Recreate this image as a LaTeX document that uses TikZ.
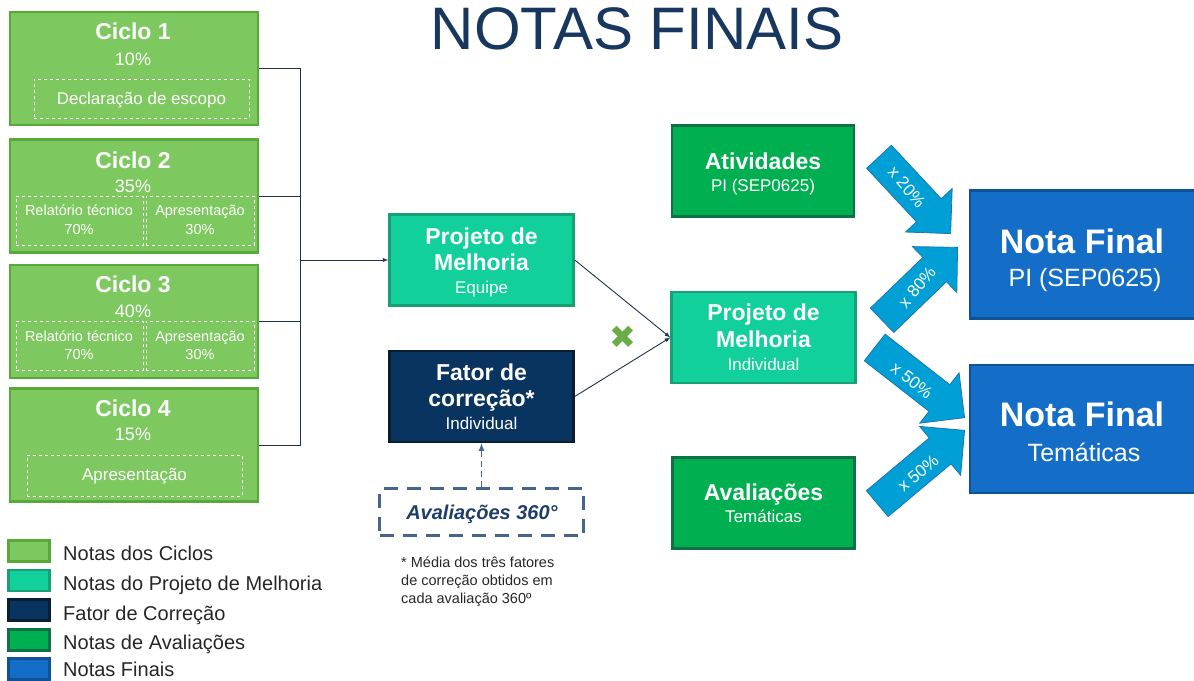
\documentclass[tikz,border=0pt]{standalone}
\usepackage{fontspec}
\setmainfont{Liberation Sans}
\newfontfamily\symbfont{DejaVu Sans}
\usetikzlibrary{shapes.arrows}

\definecolor{ciclofill}{RGB}{125,200,95}
\definecolor{ciclodraw}{RGB}{88,168,58}
\definecolor{projfill}{RGB}{18,208,155}
\definecolor{projdraw}{RGB}{22,160,115}
\definecolor{corrfill}{RGB}{10,52,96}
\definecolor{corrdraw}{RGB}{10,30,50}
\definecolor{evalfill}{RGB}{0,176,80}
\definecolor{evaldraw}{RGB}{14,112,70}
\definecolor{finalfill}{RGB}{20,110,200}
\definecolor{finaldraw}{RGB}{16,82,150}
\definecolor{arrowfill}{RGB}{0,160,215}
\definecolor{arrowdraw}{RGB}{25,118,178}
\definecolor{titlecol}{RGB}{23,55,94}
\definecolor{linkcol}{RGB}{30,50,80}
\definecolor{dashcol}{RGB}{70,100,140}
\definecolor{labelcol}{RGB}{31,61,107}
\definecolor{crossgreen}{RGB}{106,172,70}
\definecolor{inkgray}{RGB}{38,38,38}

\tikzset{
  tilebox/.style={line width=2.5pt, inner sep=0pt},
  cyclebox/.style={tilebox, fill=ciclofill, draw=ciclodraw, minimum width=248pt, minimum height=113pt},
  projbox/.style={tilebox, fill=projfill, draw=projdraw, minimum width=184pt, minimum height=91pt},
  corrbox/.style={tilebox, fill=corrfill, draw=corrdraw, minimum width=184pt, minimum height=91pt},
  evalbox/.style={tilebox, fill=evalfill, draw=evaldraw, minimum width=182pt, minimum height=91pt},
  finalbox/.style={tilebox, fill=finalfill, draw=finaldraw, minimum width=228pt, minimum height=128pt},
  partbox/.style={draw=white, dashed, line width=1pt, inner sep=0pt},
  txt/.style={inner sep=0pt, text depth=0pt, text=white},
  headtext/.style={txt, text height=16.5pt, font=\fontsize{23}{26}\selectfont\bfseries},
  pcttext/.style={txt, text height=13pt, font=\fontsize{18}{20}\selectfont},
  subtext/.style={txt, text height=12.3pt, font=\fontsize{17}{19}\selectfont},
  parttext/.style={txt, text height=10.4pt, font=\fontsize{14.5}{17}\selectfont},
  bigtext/.style={txt, text height=24.5pt, font=\fontsize{34}{38}\selectfont\bfseries},
  bigsub/.style={txt, text height=18pt, font=\fontsize{25}{28}\selectfont},
  multext/.style={txt, text height=12.2pt, font=\fontsize{17}{19}\selectfont},
  legendkey/.style={tilebox, minimum width=41pt, minimum height=21pt},
  legendtext/.style={txt, text height=14.4pt, text=inkgray, anchor=west, font=\fontsize{20}{23}\selectfont},
  notetext/.style={txt, text height=10.4pt, text=inkgray, anchor=west, font=\fontsize{14.5}{17}\selectfont},
  link/.style={draw=linkcol, line width=0.9pt},
  dashlink/.style={draw=dashcol, line width=1.6pt, dash pattern=on 6pt off 4pt},
  blockarrow/.style={single arrow, fill=arrowfill, draw=arrowdraw, line width=0.8pt,
    single arrow tip angle=90, single arrow head extend=15pt,
    text height=0pt, text depth=0pt, inner xsep=0pt, inner ysep=16.5pt, anchor=tip}
}

\begin{document}
\begin{tikzpicture}[x=1pt,y=-1pt]
\useasboundingbox (0,0) rectangle (1194,680);

\node[txt, text=titlecol, text height=43pt, font=\fontsize{60}{64}\selectfont] (title) at (637,27.5) {NOTAS FINAIS};

\node[cyclebox] (c1) at (134,68.5) {};
\node[cyclebox] (c2) at (134,196) {};
\node[cyclebox] (c3) at (134,321.5) {};
\node[cyclebox] (c4) at (134,445) {};

\node[partbox, minimum width=215pt, minimum height=39pt] (d1) at (141.5,98.5) {};
\node[partbox, minimum width=127pt, minimum height=49pt] (d2a) at (79.5,220.5) {};
\node[partbox, minimum width=108pt, minimum height=49pt] (d2b) at (200,220.5) {};
\node[partbox, minimum width=127pt, minimum height=49pt] (d3a) at (79.5,345.5) {};
\node[partbox, minimum width=108pt, minimum height=49pt] (d3b) at (200,345.5) {};
\node[partbox, minimum width=215pt, minimum height=41pt] (d4) at (134.5,475.5) {};

\node[headtext] (c1t) at (133,31) {Ciclo 1};
\node[pcttext] (c1p) at (133,59) {10\%};
\node[subtext] (d1t) at (141.5,98.5) {Declaração de escopo};

\node[headtext] (c2t) at (133,160) {Ciclo 2};
\node[pcttext] (c2p) at (133,186) {35\%};
\node[parttext] (d2at) at (79,210) {Relatório técnico};
\node[parttext] (d2ap) at (79,229) {70\%};
\node[parttext] (d2bt) at (200,210) {Apresentação};
\node[parttext] (d2bp) at (200,229) {30\%};

\node[headtext] (c3t) at (133,284) {Ciclo 3};
\node[pcttext] (c3p) at (133,311) {40\%};
\node[parttext] (d3at) at (79,336) {Relatório técnico};
\node[parttext] (d3ap) at (79,354) {70\%};
\node[parttext] (d3bt) at (200,336) {Apresentação};
\node[parttext] (d3bp) at (200,354) {30\%};

\node[headtext] (c4t) at (133,408) {Ciclo 4};
\node[pcttext] (c4p) at (133,434) {15\%};
\node[subtext] (d4t) at (134.5,474) {Apresentação};

\node[projbox] (pme) at (481.5,260) {};
\node[headtext] (pme1) at (481.5,236) {Projeto de};
\node[headtext] (pme2) at (481.5,262.5) {Melhoria};
\node[subtext] (pme3) at (481.5,287.5) {Equipe};

\node[corrbox] (fc) at (481.5,396.5) {};
\node[headtext] (fc1) at (481.5,372) {Fator de};
\node[headtext] (fc2) at (481.5,398) {correção*};
\node[subtext] (fc3) at (481.5,423) {Individual};

\node[draw=dashcol, line width=2.5pt, dash pattern=on 14pt off 9pt, inner sep=0pt,
  minimum width=204pt, minimum height=47pt] (av360) at (481.5,512) {};
\node[txt, text=labelcol, text height=14.4pt, font=\fontsize{20}{23}\selectfont\bfseries\itshape] (av360t) at (482,512.5) {Avaliações 360°};

\node[notetext] (note1) at (401,562) {* Média dos três fatores};
\node[notetext] (note2) at (401,580) {de correção obtidos em};
\node[notetext] (note3) at (401,598) {cada avaliação 360º};

\node[inner sep=0pt, text=crossgreen, font=\symbfont\fontsize{32}{32}\selectfont] (times) at (623,337) {✖};

\node[evalbox] (atv) at (763,171) {};
\node[headtext] (atv1) at (763,161) {Atividades};
\node[subtext] (atv2) at (763,185) {PI (SEP0625)};

\node[projbox] (pmi) at (763.5,337.5) {};
\node[headtext] (pmi1) at (763.5,312.5) {Projeto de};
\node[headtext] (pmi2) at (763.5,339) {Melhoria};
\node[subtext] (pmi3) at (763.5,364) {Individual};

\node[evalbox] (avt) at (763.5,503) {};
\node[headtext] (avt1) at (763.5,492) {Avaliações};
\node[subtext] (avt2) at (763.5,516) {Temáticas};

\node[finalbox] (nfp) at (1084,254.5) {};
\node[bigtext] (nfp1) at (1082,241) {Nota Final};
\node[bigsub] (nfp2) at (1085,277) {PI (SEP0625)};

\node[finalbox] (nft) at (1084,429) {};
\node[bigtext] (nft1) at (1082,414) {Nota Final};
\node[bigsub] (nft2) at (1084,452) {Temáticas};

\node[blockarrow, minimum height=105pt, rotate=-47] (a1) at (951,234) {};
\node[blockarrow, minimum height=105pt, rotate=44] (a2) at (958,247) {};
\node[blockarrow, minimum height=114pt, rotate=-38] (a3) at (965,418) {};
\node[blockarrow, minimum height=114pt, rotate=40] (a4) at (965,430) {};
\node[multext, rotate=-50] (m1) at (907,187) {x 20\%};
\node[multext, rotate=50] (m2) at (917,287) {x 80\%};
\node[multext, rotate=-38] (m3) at (912,380) {x 50\%};
\node[multext, rotate=40] (m4) at (918,473) {x 50\%};

\coordinate (jn) at (300,260);
\draw[link] (c1.east) -| (jn);
\draw[link] (c2.east) -| (jn);
\draw[link] (c3.east) -| (jn);
\draw[link] (c4.east) -| (jn);
\draw[link,-latex] (jn) -- (pme.west);
\draw[link,-latex] (pme.east) -- (pmi.west);
\draw[link,-latex] (fc.east) -- (pmi.west);
\draw[dashlink,-latex] (av360.north) -- (fc.south);

\node[legendkey, fill=ciclofill, draw=ciclodraw] (k1) at (29,551) {};
\node[legendkey, fill=projfill, draw=projdraw] (k2) at (29,580.5) {};
\node[legendkey, fill=corrfill, draw=corrdraw] (k3) at (29,610) {};
\node[legendkey, fill=evalfill, draw=evaldraw] (k4) at (29,640) {};
\node[legendkey, fill=finalfill, draw=finaldraw] (k5) at (29,669) {};
\node[legendtext] (l1) at (63,553) {Notas dos Ciclos};
\node[legendtext] (l2) at (63,583) {Notas do Projeto de Melhoria};
\node[legendtext] (l3) at (63,613) {Fator de Correção};
\node[legendtext] (l4) at (63,642.5) {Notas de Avaliações};
\node[legendtext] (l5) at (63,669) {Notas Finais};
\end{tikzpicture}
\end{document}
